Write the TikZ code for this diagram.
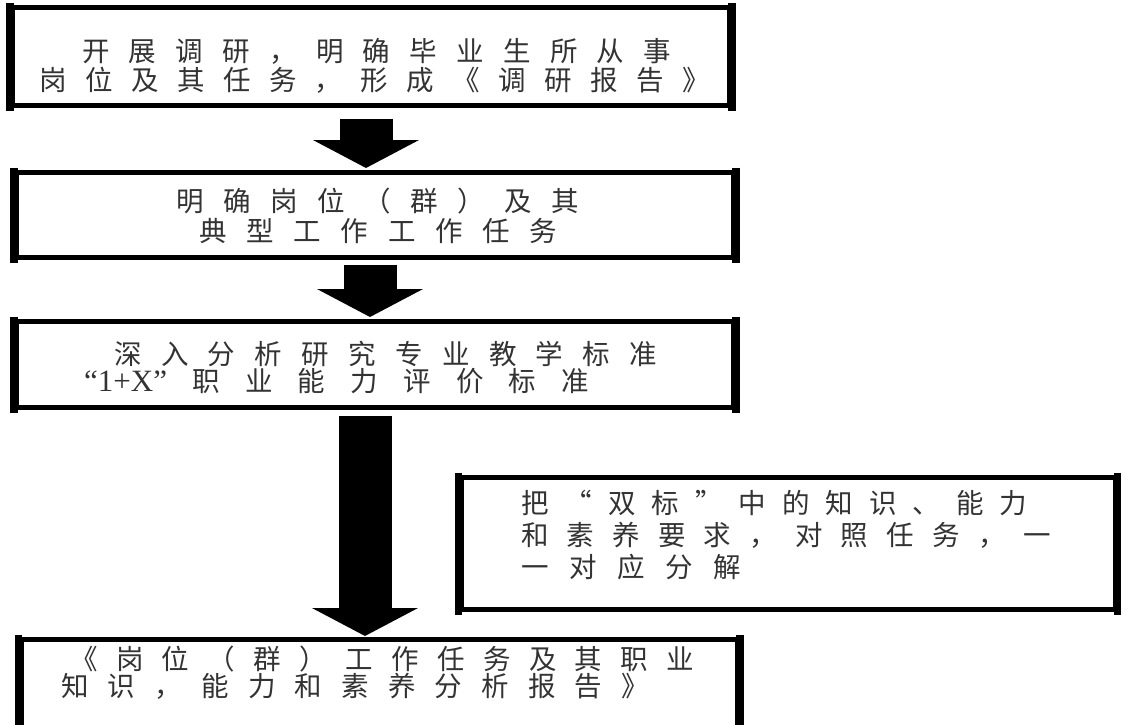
\documentclass[tikz,border=0pt]{standalone}
\usepackage{fontspec}
\newfontfamily\cjk{Noto Sans CJK SC}
\newfontfamily\latf{Liberation Serif}
\usetikzlibrary{arrows.meta,calc}
\ExplSyntaxOn
\NewDocumentCommand\spreadline{m m}{\hbox~to~#1{\tl_map_inline:nn{#2}{##1\hfil}\unskip}}
\ExplSyntaxOff
\begin{document}
\begin{tikzpicture}[x=1pt,y=-1pt,
  box/.style={draw=black, line width=5pt, rectangle, inner sep=0pt},
  side/.style={line width=7.5pt, shorten <=-2.5pt, shorten >=-2.5pt},
  txt/.style={inner sep=0pt, anchor=base west, text=black!80, font=\cjk\fontsize{27.5}{27.5}\selectfont},
  barrow/.style={line width=53pt, -{Triangle[length=28pt,width=105pt]}}
]
\useasboundingbox (0,0) rectangle (1133,724);
\fill[white] (0,0) rectangle (1133,724);

% boxes
\node[box, minimum width=717pt, minimum height=98pt] (b1) at (371,56.5) {};
\node[box, minimum width=717pt, minimum height=85pt] (b2) at (375,215) {};
\node[box, minimum width=717pt, minimum height=86pt] (b3) at (375,364.5) {};
\node[box, minimum width=654pt, minimum height=132pt] (b4) at (788,543.5) {};
\node[box, minimum width=716.5pt, minimum height=89pt] (b5) at (379.25,684) {};

\foreach \b in {b1,b2,b3,b4,b5}{
  \draw[side] (\b.north west) -- (\b.south west);
  \draw[side] (\b.north east) -- (\b.south east);
}

% block arrows
\coordinate (a1s) at ($(b1.south)+(-5,10.5)$);
\coordinate (a1e) at ($(a1s |- b2.north)+(0,-2)$);
\draw[barrow] (a1s) -- (a1e);
\coordinate (a2s) at ($(b2.south)+(-5,4.5)$);
\coordinate (a2e) at ($(a2s |- b3.north)+(0,-2)$);
\draw[barrow] (a2s) -- (a2e);
\coordinate (a3s) at ($(b3.south)+(-10,5.5)$);
\coordinate (a3e) at ($(a3s |- b5.north)+(0,-1)$);
\draw[barrow] (a3s) -- (a3e);

% texts
\node[txt] (t11) at (82,61) {\spreadline{589pt}{开展调研，明确毕业生所从事}};
\node[txt] (t12) at (39,90) {\spreadline{671pt}{岗位及其任务，形成《调研报告》}};
\node[txt] (t21) at (176,211) {\spreadline{403pt}{明确岗位（群）及其}};
\node[txt] (t22) at (199,241) {\spreadline{358pt}{典型工作工作任务}};
\node[txt] (t31) at (114,364) {\spreadline{543pt}{深入分析研究专业教学标准}};
\node[txt] (t32) at (84,391) {\spreadline{505pt}{{{\latf\fontsize{31}{31}\selectfont “1+X”}}职业能力评价标准}};
\node[txt] (t41) at (521,513) {\spreadline{506pt}{把“双标”中的知识、能力}};
\node[txt] (t42) at (521,545) {\spreadline{530pt}{和素养要求，对照任务，一}};
\node[txt] (t43) at (521,577) {\spreadline{220pt}{一对应分解}};
\node[txt] (t51) at (70,669) {\spreadline{624pt}{《岗位（群）工作任务及其职业}};
\node[txt] (t52) at (61,696) {\spreadline{588pt}{知识，能力和素养分析报告》}};
\end{tikzpicture}
\end{document}
